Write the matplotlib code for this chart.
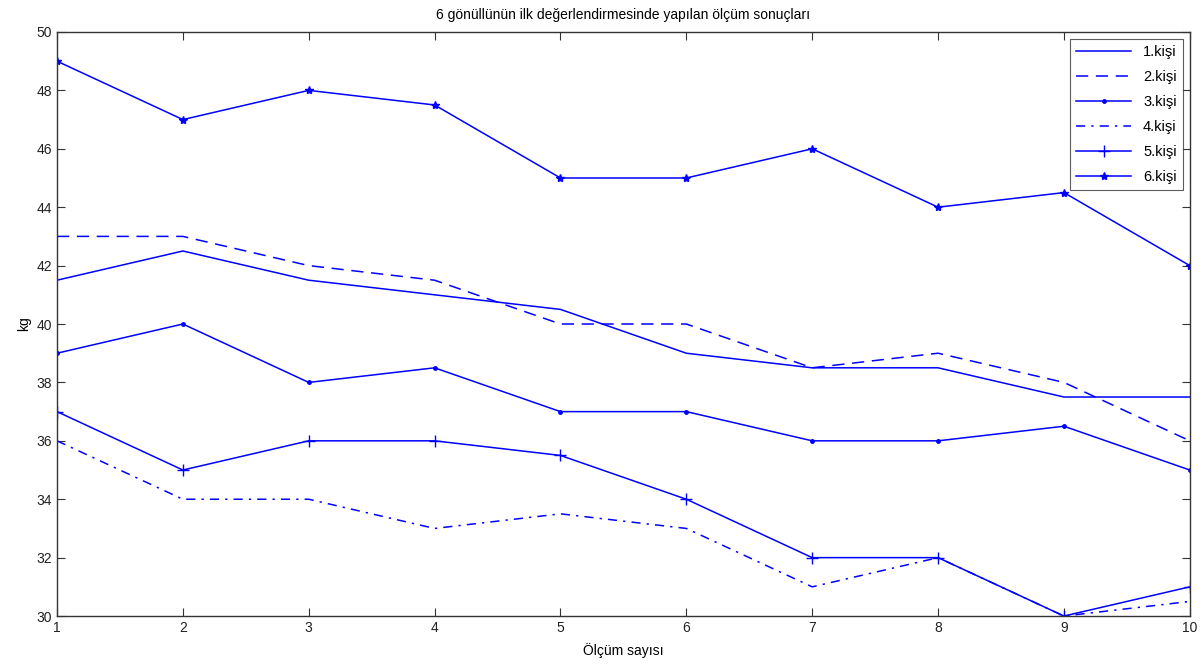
import matplotlib
matplotlib.use("Agg")
import matplotlib.pyplot as plt
import numpy as np

plt.rcParams['font.family'] = ['Liberation Sans', 'DejaVu Sans']
plt.rcParams['font.size'] = 10

olcum = np.arange(1, 11)
kisi1 = [41.5, 42.5, 41.5, 41, 40.5, 39, 38.5, 38.5, 37.5, 37.5]
kisi2 = [43, 43, 42, 41.5, 40, 40, 38.5, 39, 38, 36]
kisi3 = [39, 40, 38, 38.5, 37, 37, 36, 36, 36.5, 35]
kisi4 = [36, 34, 34, 33, 33.5, 33, 31, 32, 30, 30.5]
kisi5 = [37, 35, 36, 36, 35.5, 34, 32, 32, 30, 31]
kisi6 = [49, 47, 48, 47.5, 45, 45, 46, 44, 44.5, 42]

mavi = '#0000ff'

fig = plt.figure(figsize=(12, 6.66), dpi=100)
ax = fig.add_axes([0.0475, 0.075, 0.944, 0.877])

ax.plot(olcum, kisi1, '-', color=mavi, lw=1.1, label='1.kişi')
ax.plot(olcum, kisi2, '--', color=mavi, lw=1.1, dashes=(8, 5), label='2.kişi')
ax.plot(olcum, kisi3, '-', color=mavi, lw=1.1, marker='.', ms=5, label='3.kişi')
ax.plot(olcum, kisi4, '-.', color=mavi, lw=1.1, dashes=(6, 4, 1.5, 4), label='4.kişi')
ax.plot(olcum, kisi5, '-', color=mavi, lw=1.1, marker='+', ms=9, label='5.kişi')
ax.plot(olcum, kisi6, '-', color=mavi, lw=1.1, marker='*', ms=6, label='6.kişi')

ax.set_xlim(1, 10)
ax.set_ylim(30, 50)
ax.set_xticks(olcum)
ax.set_yticks(np.arange(30, 51, 2))
ax.tick_params(direction='in', top=True, right=True, length=6, labelsize=10,
               color='#333333', labelcolor='#222222')
for s in ax.spines.values():
    s.set_linewidth(1)
    s.set_color('#333333')

ax.set_title('6 gönüllünün ilk değerlendirmesinde yapılan ölçüm sonuçları', fontsize=10, pad=9)
ax.set_xlabel('Ölçüm sayısı', fontsize=10, labelpad=6)
ax.set_ylabel('kg', fontsize=10)

leg = ax.legend(loc='upper right', fancybox=False, edgecolor='#333333', fontsize=10.5,
                handlelength=3.8, labelspacing=0.75, borderaxespad=0.5)
leg.get_frame().set_linewidth(0.8)

fig.savefig('out.png', dpi=100)
